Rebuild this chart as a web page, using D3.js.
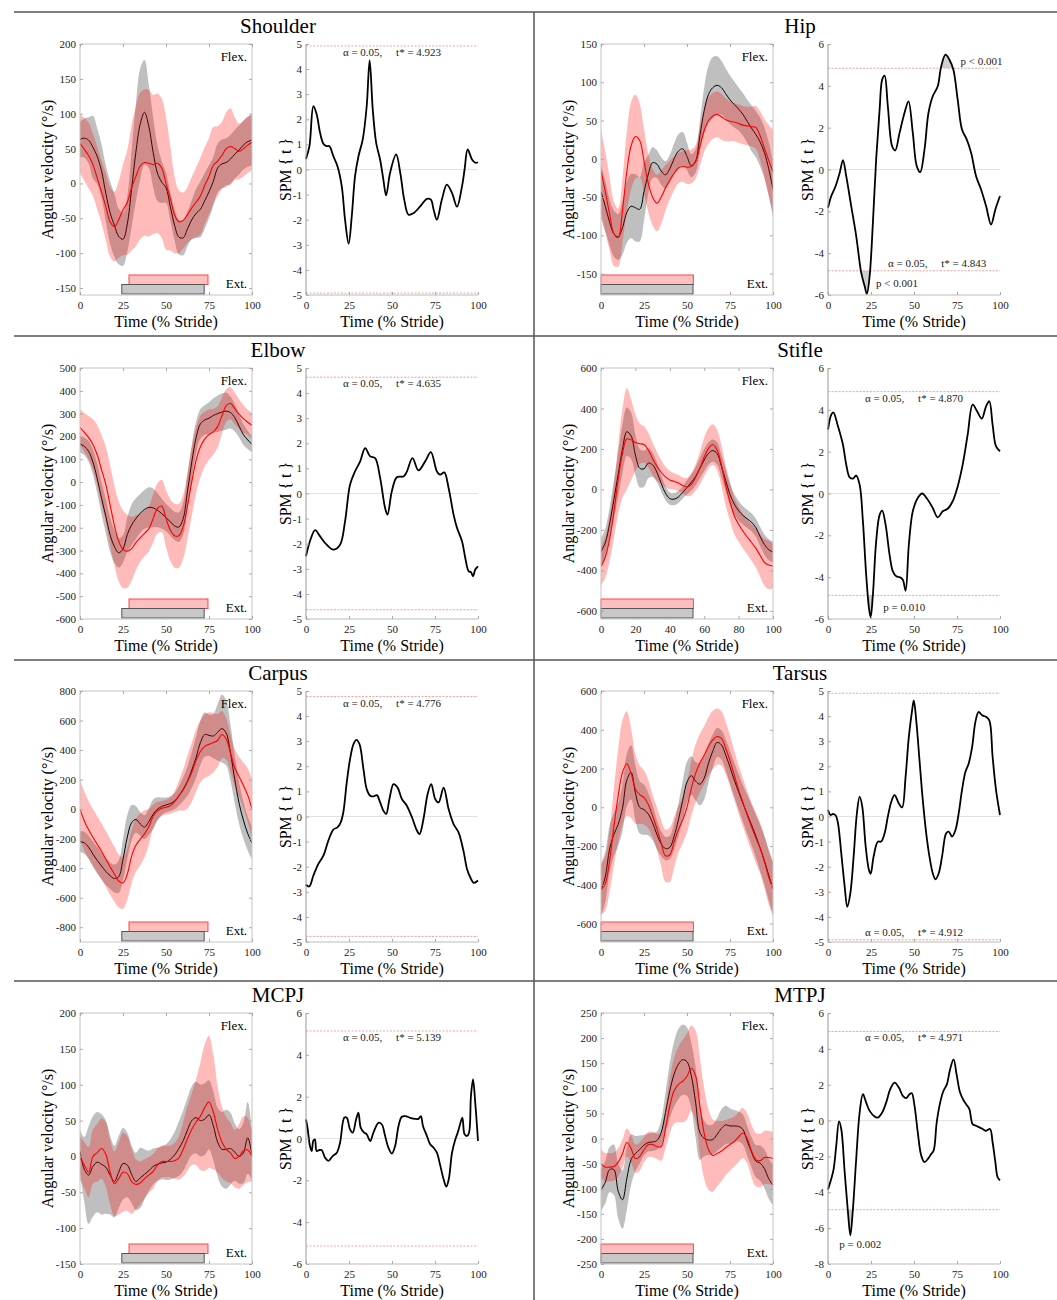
<!DOCTYPE html>
<html>
<head>
<meta charset="utf-8">
<script src="https://cdn.jsdelivr.net/npm/d3@7"></script>
<style>
body { margin: 0; background: #fff; }
svg text { font-family: "Liberation Serif", "Times New Roman", serif; }
</style>
</head>
<body>
<svg id="fig" width="1057" height="1300"></svg>
<script>
// time axis (% stride), shared by the mean/SD curves
var timePts = [0,2.5,5,7.5,10,12.5,15,17.5,20,22.5,25,27.5,30,32.5,35,37.5,40,42.5,45,47.5,50,
               52.5,55,57.5,60,62.5,65,67.5,70,72.5,75,77.5,80,82.5,85,87.5,90,92.5,95,97.5,100];

// stance bars (% stride)
var foreGreyStance = [24.3, 72.2];
var foreRedStance  = [28.5, 74.4];
var hindGreyStance = [0, 53.5];
var hindRedStance  = [0, 53.7];

// ---- Shoulder ----
var shoulderGreyMean = [63,65,62,52,39,18,-14,-42,-60,-76,-80,-58,-8,45,85,102,82,45,15,2,-6,-33,-60,-77,-78,-65,-52,-43,-37,-25,-12,3,22,28,30,35,42,48,55,60,62];
var shoulderGreySd   = [25,28,33,45,40,38,40,45,45,40,38,40,55,70,80,75,60,50,40,30,22,20,22,25,25,25,28,35,40,40,38,35,35,35,35,35,35,35,35,36,36];
var shoulderRedMean  = [57,49,40,27,8,-12,-33,-55,-62,-52,-38,-27,-6,10,25,30,29,27,29,22,0,-21,-45,-55,-53,-45,-35,-27,-18,-3,10,26,32,40,50,53,50,46,50,55,59];
var shoulderRedSd    = [42,45,47,45,45,45,48,50,50,55,65,75,90,100,105,105,105,100,100,100,95,75,55,45,40,40,45,50,55,55,55,55,50,48,52,55,45,40,40,40,40];
var shoulderSpm = [[0,0.42],[2,0.93],[4.3,2.52],[6.2,2.2],[8.2,1.46],[10.1,1.03],[12,0.93],[13.6,0.93],[15.9,0.53],[18.3,0.13],[20.8,-0.67],[22.7,-2.0],[24.8,-2.95],[26.6,-1.87],[28.5,-0.27],[30.5,0.53],[33,1.2],[35.3,2.53],[37,4.35],[38.8,2.4],[40.8,1.06],[43.1,0.39],[45,-0.41],[46.6,-1.03],[48.9,-0.13],[52.4,0.6],[54.8,-0.13],[57.1,-1.2],[59.6,-1.8],[62.5,-1.74],[66.4,-1.47],[70.3,-1.17],[72.6,-1.2],[74.2,-1.6],[76.1,-2.0],[79,-1.2],[81.9,-0.6],[84.9,-0.94],[87.8,-1.48],[90.7,-0.67],[92.2,0],[94,0.8],[96.5,0.4],[98.4,0.27],[100,0.29]];

// ---- Hip ----
var hipGreyMean = [-43,-62,-83,-98,-102,-90,-70,-62,-64,-66,-43,-20,-5,-7,-16,-21,-13,0,10,13,3,-9,-3,30,63,84,93,96,93,85,77,71,65,58,49,40,32,22,8,-13,-40];
var hipGreySd   = [35,33,30,30,30,35,40,42,44,42,38,25,20,18,18,18,18,20,22,22,18,15,15,20,30,38,40,38,35,33,32,30,28,28,28,30,30,32,33,35,35];
var hipRedMean  = [-16,-43,-72,-98,-103,-67,-17,17,29,24,-3,-32,-50,-58,-50,-38,-28,-19,-12,-10,-11,-10,-4,16,37,50,56,58,55,51,49,48,46,44,43,42,41,30,14,-2,-17];
var hipRedSd    = [54,52,48,42,38,42,52,57,55,48,42,38,37,37,35,30,25,22,20,20,22,22,22,25,28,30,30,30,30,28,26,25,25,25,25,26,28,32,38,46,55];
var hipSpm = [[0,-1.83],[1.9,-1.27],[4.4,-0.8],[6.8,-0.16],[8.7,0.45],[10.6,-0.32],[13.5,-1.75],[16.4,-3.18],[19.3,-4.93],[21.3,-5.57],[22.6,-5.95],[24.2,-5.1],[26.1,-2.55],[28,0.48],[30,2.86],[31.5,4.3],[32.9,4.49],[34.8,3.02],[37.3,1.11],[39.1,0.91],[41.6,1.75],[44.5,2.71],[46.8,3.26],[49.3,1.75],[51.6,0.16],[53.6,-0.13],[56.1,0.95],[58.4,2.7],[60.9,3.5],[63.8,3.98],[65.8,4.93],[68.3,5.49],[70.6,5.25],[72.9,4.77],[75.4,3.34],[77.9,1.91],[80.7,1.43],[83.2,0.8],[86.1,-0.32],[89,-0.96],[91.9,-1.75],[94.8,-2.63],[97.3,-1.91],[100,-1.27]];

// ---- Elbow ----
var elbowGreyMean = [166,157,135,88,16,-70,-150,-231,-282,-310,-293,-230,-188,-160,-137,-120,-111,-113,-123,-138,-155,-174,-192,-197,-160,-40,89,195,255,272,280,292,300,307,311,305,282,245,208,185,165];
var elbowGreySd   = [35,38,45,55,65,70,75,75,72,65,60,75,90,90,85,85,88,85,75,65,60,60,62,65,70,75,75,70,65,65,70,75,80,82,80,70,60,50,45,40,35];
var elbowRedMean  = [239,218,195,165,120,55,-10,-100,-190,-260,-295,-303,-292,-265,-245,-225,-205,-160,-115,-105,-160,-210,-235,-235,-195,-105,2,95,155,188,208,220,243,290,335,345,322,298,278,262,249];
var elbowRedSd    = [80,85,95,110,130,150,165,175,175,175,170,160,140,120,105,100,100,105,110,115,125,135,140,140,140,145,150,145,135,120,110,100,90,80,72,70,70,65,60,55,55];
var elbowSpm = [[0,-2.5],[2.3,-1.9],[5.3,-1.46],[8.2,-1.71],[12,-2.04],[15.9,-2.24],[19.8,-2.04],[22.7,-1.11],[25.6,0.35],[28.5,0.88],[31.5,1.28],[34.4,1.81],[37.3,1.48],[40.2,1.41],[43.1,0.62],[46,-0.58],[47.4,-0.84],[49.9,0.09],[52.8,0.65],[56.7,0.68],[58.5,0.85],[61.9,1.41],[65.4,0.92],[69.3,1.28],[72.6,1.65],[76.1,0.88],[78,0.75],[80.4,0.84],[82.9,0.22],[85.8,-0.84],[87.8,-1.37],[90.7,-1.9],[92.6,-2.57],[94.6,-3.1],[95.9,-3.13],[97.1,-3.3],[98.4,-3.03],[100,-2.9]];

// ---- Stifle ----
var stifleGreyMean = [-307,-263,-170,-50,75,200,285,265,170,105,102,130,122,85,30,-18,-45,-48,-37,-15,10,35,65,105,145,178,192,178,115,45,-25,-72,-105,-128,-145,-162,-188,-232,-272,-297,-310];
var stifleGreySd   = [65,70,80,95,110,120,120,115,100,95,90,75,60,50,40,35,30,30,30,30,35,40,45,50,55,55,55,55,55,55,55,50,48,45,45,45,45,48,50,52,52];
var stifleRedMean  = [-380,-335,-245,-110,50,180,250,245,232,226,222,195,152,115,85,62,47,40,32,20,12,25,60,105,160,203,222,195,120,20,-60,-130,-172,-205,-235,-262,-290,-325,-360,-373,-378];
var stifleRedSd    = [95,100,110,130,170,220,250,200,140,100,90,85,80,70,60,50,45,40,40,40,45,55,65,80,95,100,100,100,100,100,95,90,85,85,85,90,95,105,115,120,110];
var stifleSpm = [[0,3.05],[1.9,3.77],[3.1,3.88],[5.8,3.21],[8.7,2.33],[10.6,1.38],[12.6,0.77],[14.5,0.71],[16.4,0.86],[18.4,0.42],[20.3,-1.33],[22.2,-3.89],[23.8,-5.47],[24.8,-5.92],[26.1,-4.84],[28,-2.29],[30,-1.02],[31.5,-0.82],[33.5,-1.5],[35.8,-2.93],[37.7,-3.72],[39.7,-3.96],[41.6,-4.0],[43.5,-4.12],[45.1,-4.65],[47,-2.45],[49.3,-0.85],[52.2,-0.21],[54.7,0],[58,-0.3],[60.9,-0.69],[63.8,-1.14],[66.7,-0.85],[69.6,-0.73],[72.5,-0.37],[75.4,0.34],[78.3,1.38],[81.2,2.81],[84.1,4.25],[86.7,3.93],[89.4,3.58],[91.9,4.17],[93.8,4.41],[95.7,3.29],[97.7,2.25],[100,2.02]];

// ---- Carpus ----
var carpusGreyMean = [-221,-228,-258,-305,-347,-385,-422,-451,-470,-458,-340,-190,-92,-70,-100,-122,-85,-35,0,18,28,38,55,90,135,190,265,350,450,505,500,495,520,545,515,380,200,40,-75,-165,-230];
var carpusGreySd   = [70,75,80,85,90,90,90,90,95,110,140,150,120,90,80,80,90,100,80,60,50,50,55,65,80,100,120,140,150,150,140,150,190,230,220,190,160,140,125,115,110];
var carpusRedMean  = [0,-80,-140,-190,-238,-285,-338,-390,-440,-487,-500,-440,-320,-245,-205,-168,-120,-50,-12,5,13,23,50,90,130,185,250,330,390,425,440,450,465,505,475,380,280,220,160,95,0];
var carpusRedSd    = [200,200,195,190,190,190,190,190,185,180,175,175,180,180,175,160,120,80,60,50,50,55,70,100,140,180,200,210,210,215,215,200,180,160,140,125,125,135,155,180,200];
var carpusSpm = [[0,-2.72],[1.9,-2.79],[4.3,-2.35],[7.2,-1.89],[10.1,-1.56],[13,-0.96],[15.9,-0.52],[18.3,-0.43],[20.2,-0.23],[21.7,0.17],[23.7,1.36],[25.6,2.28],[27.6,2.88],[29.3,3.05],[31.1,2.88],[33.4,1.89],[35.3,1.09],[37.3,0.83],[39.2,0.8],[41.2,0.85],[43.1,0.56],[45,0.23],[46.6,0.1],[48.5,0.7],[50.9,1.29],[53.2,1.16],[55.7,0.7],[58.6,0.43],[61.6,-0.03],[64.1,-0.5],[66,-0.7],[68.3,-0.1],[70.7,0.89],[72.8,1.29],[75.1,0.7],[77.1,0.56],[80,1.15],[82.9,0.3],[85.8,-0.3],[88.7,-0.63],[91.7,-1.42],[93.6,-2.09],[95.5,-2.42],[97.5,-2.64],[100,-2.55]];

// ---- Tarsus ----
var tarsusGreyMean = [-428,-359,-215,-140,-88,-5,140,180,75,0,-12,-35,-80,-140,-188,-213,-207,-150,-65,35,130,163,135,119,150,228,290,335,322,270,207,140,80,20,-35,-90,-147,-210,-275,-350,-420];
var tarsusGreySd   = [135,130,120,110,110,120,135,140,140,135,130,110,90,75,65,60,60,70,85,100,105,100,100,110,110,100,85,75,75,80,85,90,90,95,100,105,110,120,125,130,135];
var tarsusRedMean  = [-425,-394,-275,-100,60,180,225,175,95,65,50,15,-45,-110,-185,-250,-245,-180,-115,-65,0,98,175,228,268,315,348,365,356,305,240,165,90,25,-40,-100,-158,-210,-280,-360,-420];
var tarsusRedSd    = [130,140,160,200,240,270,270,230,180,150,140,125,110,110,120,135,140,130,120,120,130,140,150,150,150,150,150,145,140,135,130,125,125,125,125,125,130,130,135,140,140];
var tarsusSpm = [[0,0.26],[1.5,0.06],[2.9,0.1],[4.4,0.05],[5.8,-0.27],[7.7,-1.46],[9.7,-2.79],[11.2,-3.6],[13,-3.05],[14.9,-1.6],[16.8,0.13],[18.4,0.79],[19.9,0.4],[21.9,-1.19],[23.8,-2.13],[24.8,-2.28],[26.5,-1.6],[29,-1.0],[30.9,-1.0],[32.9,-0.67],[34.8,0],[36.8,0.59],[38.7,0.85],[41.2,0.52],[43.1,0.36],[45.1,1.58],[47,3.17],[48.9,4.23],[49.9,4.63],[51.3,3.83],[53.2,2.24],[55.1,0.66],[57.1,-0.67],[59,-1.6],[60.9,-2.26],[62.5,-2.5],[64.4,-2.26],[66.3,-1.6],[68.7,-0.67],[70.2,-0.6],[72.1,-0.8],[74.1,-0.54],[76,0.13],[77.9,1.05],[79.9,1.78],[81.8,2.11],[83.8,2.77],[85.7,3.77],[87.6,4.17],[89.6,4.03],[91.9,3.97],[93.8,3.83],[95.7,2.38],[97.7,1.05],[100,0.06]];

// ---- MCPJ ----
var mcpjGreyMean = [7,-18,-26,-14,-8,-11,-15,-26,-35,-22,-10,-12,-25,-35,-30,-25,-20,-14,-11,-9,-8,-4,2,11,22,37,50,54,50,52,58,43,20,10,10,11,6,0,5,26,2];
var mcpjGreySd   = [30,45,68,70,70,70,65,55,50,50,50,45,40,40,42,35,28,25,23,23,25,28,32,38,42,45,48,50,50,50,48,48,48,52,55,50,40,38,42,50,35];
var mcpjRedMean  = [-2,-12,-22,0,5,11,3,-22,-38,-31,-22,-24,-35,-39,-37,-31,-26,-21,-12,-7,-7,-7,-6,-2,10,25,38,48,56,68,76,62,38,20,10,5,-3,0,8,9,0];
var mcpjRedSd    = [30,32,35,38,40,42,45,45,45,50,55,52,45,35,30,27,25,24,23,22,22,22,25,30,38,45,50,60,75,88,92,80,60,50,45,42,40,45,48,45,35];
var mcpjSpm = [[0,0.91],[1,0.44],[2.3,-0.36],[3.3,-0.6],[4.3,-0.1],[5.2,-0.05],[6.2,-0.6],[7.8,-0.55],[9.1,-0.55],[11.1,-0.92],[13,-1.07],[15.5,-0.84],[17.9,-0.68],[19.8,-0.2],[22.3,1.0],[23.7,0.99],[25.6,0.44],[27.2,0.28],[29.1,0.91],[30.5,1.23],[31.8,0.52],[33.8,0.28],[35.3,0.2],[37.3,-0.12],[39.2,0.28],[42.1,0.75],[44.1,0.67],[46,0.12],[47.9,-0.44],[49.9,-0.72],[51.8,-0.36],[53.8,0.6],[55.7,1.04],[57.7,1.07],[60.6,0.99],[63.5,0.94],[65.4,0.94],[66.8,1.07],[68,0.6],[70.3,0.12],[72.2,-0.28],[74.2,-0.44],[76.1,-0.68],[78.1,-1.31],[80,-1.95],[81.6,-2.3],[83,-1.95],[84.9,-0.68],[86.8,-0.05],[88.2,0.28],[89.3,0.6],[90.9,1.0],[92.2,0.2],[93.6,0.12],[94.8,0.28],[95.9,2.03],[97.1,2.82],[98.4,1.71],[100,-0.12]];

// ---- MTPJ ----
var mtpjGreyMean = [-103,-87,-62,-62,-105,-122,-80,-42,-30,-22,-13,-8,-7,-4,12,52,95,128,148,157,153,125,72,12,0,-3,-2,8,20,27,25,25,24,18,-5,-27,-45,-49,-60,-80,-93];
var mtpjGreySd   = [42,42,45,50,55,58,62,50,35,28,20,18,18,18,25,40,55,65,70,70,68,65,70,55,35,30,30,33,38,38,35,32,30,30,30,30,32,35,38,40,40];
var mtpjRedMean  = [-50,-57,-57,-56,-47,-30,-8,-20,-40,-36,-22,-12,-12,-16,-16,20,65,95,108,114,124,140,125,65,10,-22,-34,-30,-25,-18,-12,-6,3,11,0,-25,-42,-44,-38,-38,-40];
var mtpjRedSd    = [28,28,28,28,28,28,28,28,28,28,25,25,25,25,28,40,55,65,75,82,85,85,90,95,90,80,72,65,60,55,52,50,50,50,50,52,53,53,53,53,53];
var mtpjSpm = [[0,-3.84],[1.9,-3.25],[3.3,-2.69],[4.8,-1.4],[6.4,-0.05],[7.7,-0.47],[9.7,-2.88],[11.6,-5.1],[13,-6.4],[14.5,-4.91],[16.4,-2.14],[18.4,0.45],[20.3,1.47],[22.2,1.0],[24.2,0.54],[27.1,0.23],[29,0.17],[31.5,0.45],[33.8,1.0],[36.2,1.75],[38.7,2.12],[41.2,1.84],[43.5,1.38],[45.5,1.25],[47.4,1.47],[48.7,1.52],[50.3,0.82],[52.2,-0.66],[54.2,-1.95],[56.1,-2.32],[58.1,-2.14],[60,-1.86],[61.4,-1.68],[63.2,-0.1],[65.2,1.0],[67.1,1.65],[69.1,2.02],[71,2.86],[73,3.41],[74.9,2.49],[76.8,1.56],[78.7,1.15],[80.7,0.86],[82.2,0.64],[84.1,-0.2],[86.1,-0.29],[88,-0.38],[89.9,-0.47],[91.9,-0.57],[94.2,-0.47],[95.7,-1.21],[97.3,-2.32],[98.6,-3.15],[100,-3.34]];

// critical thresholds t*
var jointNames = ["Shoulder","Hip","Elbow","Stifle","Carpus","Tarsus","MCPJ","MTPJ"];
var tStar = [4.923, 4.843, 4.635, 4.870, 4.776, 4.912, 5.139, 4.971];

// axis ranges and ticks
var angDomains = [[-160,200],[-178,150],[-600,500],[-640,600],[-900,800],[-695,600],[-150,200],[-250,250]];
var angTicks = [
  [-150,-100,-50,0,50,100,150,200],
  [-150,-100,-50,0,50,100,150],
  [-600,-500,-400,-300,-200,-100,0,100,200,300,400,500],
  [-600,-400,-200,0,200,400,600],
  [-800,-600,-400,-200,0,200,400,600,800],
  [-600,-400,-200,0,200,400,600],
  [-150,-100,-50,0,50,100,150,200],
  [-250,-200,-150,-100,-50,0,50,100,150,200,250]
];
var spmDomains = [[-5,5],[-6,6],[-5,5],[-6,6],[-5,5],[-5,5],[-6,6],[-8,6]];
var spmTicks = [
  [-5,-4,-3,-2,-1,0,1,2,3,4,5],
  [-6,-4,-2,0,2,4,6],
  [-5,-4,-3,-2,-1,0,1,2,3,4,5],
  [-6,-4,-2,0,2,4,6],
  [-5,-4,-3,-2,-1,0,1,2,3,4,5],
  [-5,-4,-3,-2,-1,0,1,2,3,4,5],
  [-6,-4,-2,0,2,4,6],
  [-8,-6,-4,-2,0,2,4,6]
];
var timeTicks = [0,25,50,75,100];
var stifleTimeTicks = [0,20,40,60,80,100];

// where the alpha/t* note sits (time, upper or lower threshold)
var alphaNoteX = [50, 63.5, 50, 50, 50, 50, 50, 50];
var alphaNoteSide = ["top","bottom","top","top","top","bottom","top","top"];

// cluster p-values: [joint index, time, t value, text]
var pNotes = [
  [1, 89.3, 5.17, "p < 0.001"],
  [1, 40.1, -5.41, "p < 0.001"],
  [3, 44.3, -5.44, "p = 0.010"],
  [7, 18.8, -6.89, "p = 0.002"]
];

var joints = [
  {g:[shoulderGreyMean,shoulderGreySd], r:[shoulderRedMean,shoulderRedSd], spm:shoulderSpm, st:[foreGreyStance,foreRedStance], xt:timeTicks},
  {g:[hipGreyMean,hipGreySd], r:[hipRedMean,hipRedSd], spm:hipSpm, st:[hindGreyStance,hindRedStance], xt:timeTicks},
  {g:[elbowGreyMean,elbowGreySd], r:[elbowRedMean,elbowRedSd], spm:elbowSpm, st:[foreGreyStance,foreRedStance], xt:timeTicks},
  {g:[stifleGreyMean,stifleGreySd], r:[stifleRedMean,stifleRedSd], spm:stifleSpm, st:[hindGreyStance,hindRedStance], xt:stifleTimeTicks},
  {g:[carpusGreyMean,carpusGreySd], r:[carpusRedMean,carpusRedSd], spm:carpusSpm, st:[foreGreyStance,foreRedStance], xt:timeTicks},
  {g:[tarsusGreyMean,tarsusGreySd], r:[tarsusRedMean,tarsusRedSd], spm:tarsusSpm, st:[hindGreyStance,hindRedStance], xt:timeTicks},
  {g:[mcpjGreyMean,mcpjGreySd], r:[mcpjRedMean,mcpjRedSd], spm:mcpjSpm, st:[foreGreyStance,foreRedStance], xt:timeTicks},
  {g:[mtpjGreyMean,mtpjGreySd], r:[mtpjRedMean,mtpjRedSd], spm:mtpjSpm, st:[hindGreyStance,hindRedStance], xt:timeTicks}
];

// layout
var rowTop = [44, 368, 691, 1013];
var plotH = 251, plotW = 172;
var colLeft = [[80, 306], [601, 828]];
var titleX = [278, 800];
var serif = '"Liberation Serif","Times New Roman",serif';

var svg = d3.select("#fig");
var defs = svg.append("defs");
var plain = function(d){ return String(d); };

// frame lines
var frame = svg.append("g").attr("stroke", "#555").attr("stroke-width", 1.5);
[12, 336, 660, 981].forEach(function(yy){
  frame.append("line").attr("x1", 14).attr("x2", 1057).attr("y1", yy).attr("y2", yy);
});
frame.append("line").attr("x1", 534).attr("x2", 534).attr("y1", 12).attr("y2", 1300);

function styleAxis(sel, lineColor){
  sel.attr("font-family", serif).attr("font-size", 11);
  sel.select(".domain").remove();
  sel.selectAll(".tick line").attr("stroke", lineColor);
  sel.selectAll(".tick text").attr("fill", "#222");
}

function drawAngle(j, k, left, top){
  var bottom = top + plotH;
  var g = svg.append("g");
  var x = d3.scaleLinear().domain([0,100]).range([left, left + plotW]);
  var y = d3.scaleLinear().domain(angDomains[k]).range([bottom, top]);

  defs.append("clipPath").attr("id", "ca" + k).append("rect")
    .attr("x", left).attr("y", top).attr("width", plotW).attr("height", plotH);

  var band = function(ms){
    return d3.area().curve(d3.curveCatmullRom)
      .x(function(d,i){ return x(timePts[i]); })
      .y0(function(d,i){ return y(ms[0][i] - ms[1][i]); })
      .y1(function(d,i){ return y(ms[0][i] + ms[1][i]); })(ms[0]);
  };
  var line = d3.line().curve(d3.curveCatmullRom)
    .x(function(d,i){ return x(timePts[i]); })
    .y(function(d){ return y(d); });

  var pg = g.append("g").attr("clip-path", "url(#ca" + k + ")");
  pg.append("path").attr("d", band(j.g)).attr("fill", "#808080").attr("fill-opacity", 0.5);
  pg.append("path").attr("d", line(j.g[0])).attr("fill", "none").attr("stroke", "#000").attr("stroke-width", 1);
  pg.append("path").attr("d", band(j.r)).attr("fill", "#ff0000").attr("fill-opacity", 0.27);
  pg.append("path").attr("d", line(j.r[0])).attr("fill", "none").attr("stroke", "#f00").attr("stroke-width", 1.1);

  // stance bars
  g.append("rect").attr("x", x(j.st[1][0])).attr("width", x(j.st[1][1]) - x(j.st[1][0]))
    .attr("y", bottom - 20).attr("height", 9.5)
    .attr("fill", "#ff0000").attr("fill-opacity", 0.25).attr("stroke", "#f44").attr("stroke-width", 1);
  g.append("rect").attr("x", x(j.st[0][0])).attr("width", x(j.st[0][1]) - x(j.st[0][0]))
    .attr("y", bottom - 10.5).attr("height", 9.5)
    .attr("fill", "#c8c8c8").attr("stroke", "#555").attr("stroke-width", 1);

  // box + ticks
  g.append("rect").attr("x", left).attr("y", top).attr("width", plotW).attr("height", plotH)
    .attr("fill", "none").attr("stroke", "#c4c4c4").attr("stroke-width", 1);
  g.append("g").attr("transform", "translate(0," + bottom + ")")
    .call(d3.axisBottom(x).tickValues(j.xt).tickSize(-3).tickPadding(6).tickFormat(plain))
    .call(styleAxis, "#aaa");
  g.append("g").attr("transform", "translate(0," + top + ")")
    .call(d3.axisTop(x).tickValues(j.xt).tickSize(-3).tickFormat(""))
    .call(styleAxis, "#aaa");
  g.append("g").attr("transform", "translate(" + left + ",0)")
    .call(d3.axisLeft(y).tickValues(angTicks[k]).tickSize(-3).tickPadding(4).tickFormat(plain))
    .call(styleAxis, "#aaa");
  g.append("g").attr("transform", "translate(" + (left + plotW) + ",0)")
    .call(d3.axisRight(y).tickValues(angTicks[k]).tickSize(-3).tickFormat(""))
    .call(styleAxis, "#aaa");

  g.append("text").attr("x", left + plotW - 5).attr("y", top + 17).attr("text-anchor", "end")
    .attr("font-size", 13).text("Flex.");
  g.append("text").attr("x", left + plotW - 5).attr("y", bottom - 7).attr("text-anchor", "end")
    .attr("font-size", 13).text("Ext.");

  g.append("text").attr("x", left + plotW / 2).attr("y", bottom + 32).attr("text-anchor", "middle")
    .attr("font-size", 16).text("Time (% Stride)");
  g.append("text").attr("transform", "translate(" + (left - 33) + "," + (top + plotH / 2) + ") rotate(-90)")
    .attr("text-anchor", "middle").attr("dy", "0.35em").attr("font-size", 16)
    .text("Angular velocity (°/s)");
}

function drawSpm(j, k, left, top){
  var bottom = top + plotH;
  var g = svg.append("g");
  var x = d3.scaleLinear().domain([0,100]).range([left, left + plotW]);
  var y = d3.scaleLinear().domain(spmDomains[k]).range([bottom, top]);
  var ts = tStar[k];

  // clusters beyond threshold
  defs.append("clipPath").attr("id", "cu" + k).append("rect")
    .attr("x", left).attr("y", top).attr("width", plotW).attr("height", y(ts) - top);
  defs.append("clipPath").attr("id", "cl" + k).append("rect")
    .attr("x", left).attr("y", y(-ts)).attr("width", plotW).attr("height", bottom - y(-ts));
  var fillTo = function(lvl){
    return d3.area().curve(d3.curveCatmullRom)
      .x(function(d){ return x(d[0]); })
      .y0(y(lvl)).y1(function(d){ return y(d[1]); })(j.spm);
  };
  g.append("path").attr("d", fillTo(ts)).attr("clip-path", "url(#cu" + k + ")").attr("fill", "#cfcfcf");
  g.append("path").attr("d", fillTo(-ts)).attr("clip-path", "url(#cl" + k + ")").attr("fill", "#cfcfcf");

  g.append("line").attr("x1", x(0)).attr("x2", x(100)).attr("y1", y(0)).attr("y2", y(0))
    .attr("stroke", "#e2e2e2").attr("stroke-width", 1);
  [ts, -ts].forEach(function(v){
    g.append("line").attr("x1", x(0)).attr("x2", x(100)).attr("y1", y(v)).attr("y2", y(v))
      .attr("stroke", "#f5a3a3").attr("stroke-width", 1).attr("stroke-dasharray", "2,1.5");
  });

  g.append("path")
    .attr("d", d3.line().curve(d3.curveCatmullRom)
      .x(function(d){ return x(d[0]); }).y(function(d){ return y(d[1]); })(j.spm))
    .attr("fill", "none").attr("stroke", "#000").attr("stroke-width", 1.8);

  g.append("g").attr("transform", "translate(0," + bottom + ")")
    .call(d3.axisBottom(x).tickValues(timeTicks).tickSize(-3).tickPadding(6).tickFormat(plain))
    .call(styleAxis, "#aaa");
  g.append("g").attr("transform", "translate(" + left + ",0)")
    .call(d3.axisLeft(y).tickValues(spmTicks[k]).tickSize(-3).tickPadding(4).tickFormat(plain))
    .call(styleAxis, "#aaa");
  g.append("line").attr("x1", left).attr("x2", left + plotW).attr("y1", bottom).attr("y2", bottom)
    .attr("stroke", "#bbb");
  g.append("line").attr("x1", left).attr("x2", left).attr("y1", top).attr("y2", bottom)
    .attr("stroke", "#999");

  var ny = alphaNoteSide[k] === "top" ? y(ts) + 10 : y(-ts) - 3.5;
  g.append("text").attr("x", x(alphaNoteX[k])).attr("y", ny).attr("text-anchor", "middle")
    .attr("font-size", 11).style("white-space", "pre").attr("fill", "#222")
    .text("\u03b1 = 0.05,     t* = " + ts.toFixed(3));

  pNotes.filter(function(p){ return p[0] === k; }).forEach(function(p){
    g.append("text").attr("x", x(p[1])).attr("y", y(p[2])).attr("dy", "0.35em")
      .attr("text-anchor", "middle").attr("font-size", 11).attr("fill", "#222").text(p[3]);
  });

  g.append("text").attr("x", left + plotW / 2).attr("y", bottom + 32).attr("text-anchor", "middle")
    .attr("font-size", 16).text("Time (% Stride)");
  g.append("text").attr("transform", "translate(" + (left - 21) + "," + (top + plotH / 2) + ") rotate(-90)")
    .attr("text-anchor", "middle").attr("dy", "0.35em").attr("font-size", 16)
    .attr("textLength", 63).attr("lengthAdjust", "spacingAndGlyphs")
    .text("SPM { t }");
}

joints.forEach(function(j, k){
  var row = Math.floor(k / 2), col = k % 2;
  var top = rowTop[row];
  svg.append("text").attr("x", titleX[col]).attr("y", top - 11).attr("text-anchor", "middle")
    .attr("font-size", 21).text(jointNames[k]);
  drawAngle(j, k, colLeft[col][0], top);
  drawSpm(j, k, colLeft[col][1], top);
});
</script>
</body>
</html>
